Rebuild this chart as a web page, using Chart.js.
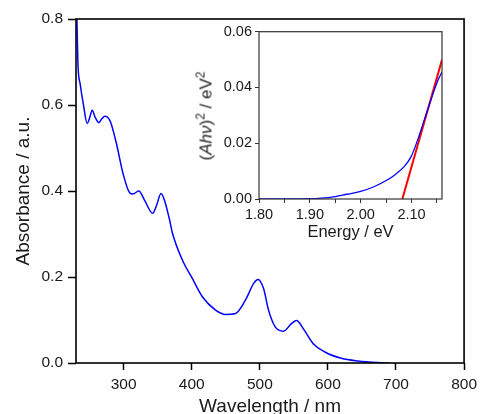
<!DOCTYPE html>
<html lang="en">
<head>
  <meta charset="UTF-8">
  <title>Absorbance</title>
  <style>
    body { margin: 0; background: white; }
    #wrap { position: relative; width: 482px; height: 414px; font-family: "Liberation Sans", Arial, sans-serif; }
    #inset { position: absolute; left: 200px; top: 20px; width: 260px; height: 230px; }
    #insetTitle {
      position: absolute; left: 206px; top: 116px; white-space: nowrap;
      font-size: 17px; color: #222; line-height: 1;
      transform: translate(-50%, -50%) rotate(-90deg);
    }
    #insetTitle sup { font-size: 12px; line-height: 0; }
  </style>
</head>
<body>
  <div id="wrap">
    <canvas id="mainChart" width="482" height="414"></canvas>
    <canvas id="inset" width="260" height="230"></canvas>
    <div id="insetTitle">(<i>Ah&nu;</i>)<sup>2</sup> / eV<sup>2</sup></div>
  </div>

  <script src="https://cdn.jsdelivr.net/npm/chart.js"></script>
  <script>
    // main spectrum
    const wavelength = [229, 231, 233, 236, 240.6, 246.5, 250, 253.8, 258, 263.5, 268, 272.3, 276, 280.6, 289.3, 299,
      308.7, 313.5, 322.3, 330.6, 342.7, 348, 354.9, 360, 367, 371.8, 386.4, 401, 415.6, 435, 449.7, 464.3,
      478.8, 491, 497.3, 505.5, 512.8, 522.6, 534.7, 546.8, 554, 563.8, 578.4, 595.5, 619.7, 644, 673, 690];
    const absorbance = [0.9, 0.82, 0.69, 0.65, 0.604, 0.557, 0.57, 0.588, 0.572, 0.559, 0.568, 0.574, 0.572, 0.561, 0.511, 0.441,
      0.396, 0.393, 0.400, 0.379, 0.348, 0.365, 0.394, 0.378, 0.336, 0.301, 0.239, 0.196, 0.154, 0.123, 0.113, 0.115,
      0.146, 0.185, 0.194, 0.173, 0.123, 0.084, 0.074, 0.092, 0.099, 0.080, 0.045, 0.0256, 0.011, 0.0047, 0.001, 0];
    const wlTicks = [300, 400, 500, 600, 700, 800];
    const absTicks = [0, 0.2, 0.4, 0.6, 0.8];

    // inset Tauc plot
    const energy = [1.80, 1.85, 1.90, 1.94, 1.973, 2.00, 2.026, 2.052, 2.069, 2.0855, 2.099, 2.112, 2.125, 2.138, 2.152, 2.16];
    const tauc = [0, 0, 0.0001, 0.0006, 0.0017, 0.0027, 0.0044, 0.0068, 0.0089, 0.0116, 0.0151, 0.0211, 0.0283, 0.0354, 0.0426, 0.0455];
    const fitEnergy = [2.082, 2.16];
    const fitTauc = [0, 0.0499];
    const eTicks = [1.80, 1.85, 1.90, 1.95, 2.00, 2.05, 2.10, 2.15];
    const eLabeled = [1.80, 1.90, 2.00, 2.10];
    const taucTicks = [0, 0.02, 0.04, 0.06];

    Chart.defaults.font.family = '"Liberation Sans", Arial, sans-serif';
    Chart.defaults.color = '#1a1a1a';

    const toXY = (xs, ys) => xs.map((x, i) => ({ x, y: ys[i] }));

    const frame = {
      id: 'frame',
      afterDraw(chart, args, opts) {
        const { ctx, chartArea: a } = chart;
        ctx.save();
        ctx.strokeStyle = opts.color;
        ctx.lineWidth = opts.width;
        ctx.strokeRect(a.left, a.top, a.right - a.left, a.bottom - a.top);
        ctx.restore();
      }
    };

    new Chart(document.getElementById('mainChart'), {
      type: 'line',
      data: {
        datasets: [{
          data: toXY(wavelength, absorbance),
          borderColor: '#0000ff',
          borderWidth: 1.5,
          pointRadius: 0,
          cubicInterpolationMode: 'monotone'
        }]
      },
      options: {
        responsive: false,
        animation: false,
        layout: { padding: { top: 19, right: 16, left: 0, bottom: 0 } },
        plugins: { legend: { display: false }, tooltip: { enabled: false }, frame: { color: '#000', width: 1.6 } },
        scales: {
          x: {
            type: 'linear', min: 230, max: 800,
            afterBuildTicks: s => { s.ticks = wlTicks.map(v => ({ value: v })); },
            afterFit: s => { s.height = 51; },
            ticks: { font: { size: 15.5 }, padding: 5, maxRotation: 0 },
            grid: { drawOnChartArea: false, tickLength: 7, tickColor: '#000', tickWidth: 1.5 },
            border: { display: false },
            title: { display: true, text: 'Wavelength / nm', font: { size: 19 }, padding: { top: 0, bottom: -4 } }
          },
          y: {
            min: 0, max: 0.8,
            afterBuildTicks: s => { s.ticks = absTicks.map(v => ({ value: v })); },
            afterFit: s => { s.width = 76; },
            ticks: { font: { size: 15.5 }, padding: 5, callback: v => v.toFixed(1) },
            grid: { drawOnChartArea: false, tickLength: 8, tickColor: '#000', tickWidth: 1.5 },
            border: { display: false },
            title: { display: true, text: 'Absorbance / a.u.', font: { size: 19 }, padding: { top: 12, bottom: 0 } }
          }
        }
      },
      plugins: [frame]
    });

    new Chart(document.getElementById('inset'), {
      type: 'line',
      data: {
        datasets: [{
          data: toXY(energy, tauc),
          borderColor: '#0000ff',
          borderWidth: 1.3,
          pointRadius: 0,
          cubicInterpolationMode: 'monotone'
        }, {
          data: toXY(fitEnergy, fitTauc),
          borderColor: '#ff0000',
          borderWidth: 2,
          pointRadius: 0
        }]
      },
      options: {
        responsive: false,
        animation: false,
        layout: { padding: { top: 11, right: 18, left: 0, bottom: 0 } },
        plugins: { legend: { display: false }, tooltip: { enabled: false }, frame: { color: '#333', width: 1.2 } },
        scales: {
          x: {
            type: 'linear', min: 1.8, max: 2.16,
            afterBuildTicks: s => { s.ticks = eTicks.map(v => ({ value: v })); },
            afterFit: s => { s.height = 51; },
            ticks: { font: { size: 14.5 }, padding: 3, maxRotation: 0, autoSkip: false,
              callback: v => eLabeled.includes(v) ? v.toFixed(2) : '' },
            grid: { drawOnChartArea: false, tickLength: 4, tickColor: '#333', tickWidth: 1 },
            border: { display: false },
            title: { display: true, text: 'Energy / eV', font: { size: 16.5 }, padding: { top: 0, bottom: 8 } }
          },
          y: {
            min: 0, max: 0.06,
            afterBuildTicks: s => { s.ticks = taucTicks.map(v => ({ value: v })); },
            afterFit: s => { s.width = 59; },
            ticks: { font: { size: 14.5 }, padding: 3, callback: v => v.toFixed(2) },
            grid: { drawOnChartArea: false, tickLength: 4, tickColor: '#333', tickWidth: 1 },
            border: { display: false }
          }
        }
      },
      plugins: [frame]
    });
  </script>
</body>
</html>
